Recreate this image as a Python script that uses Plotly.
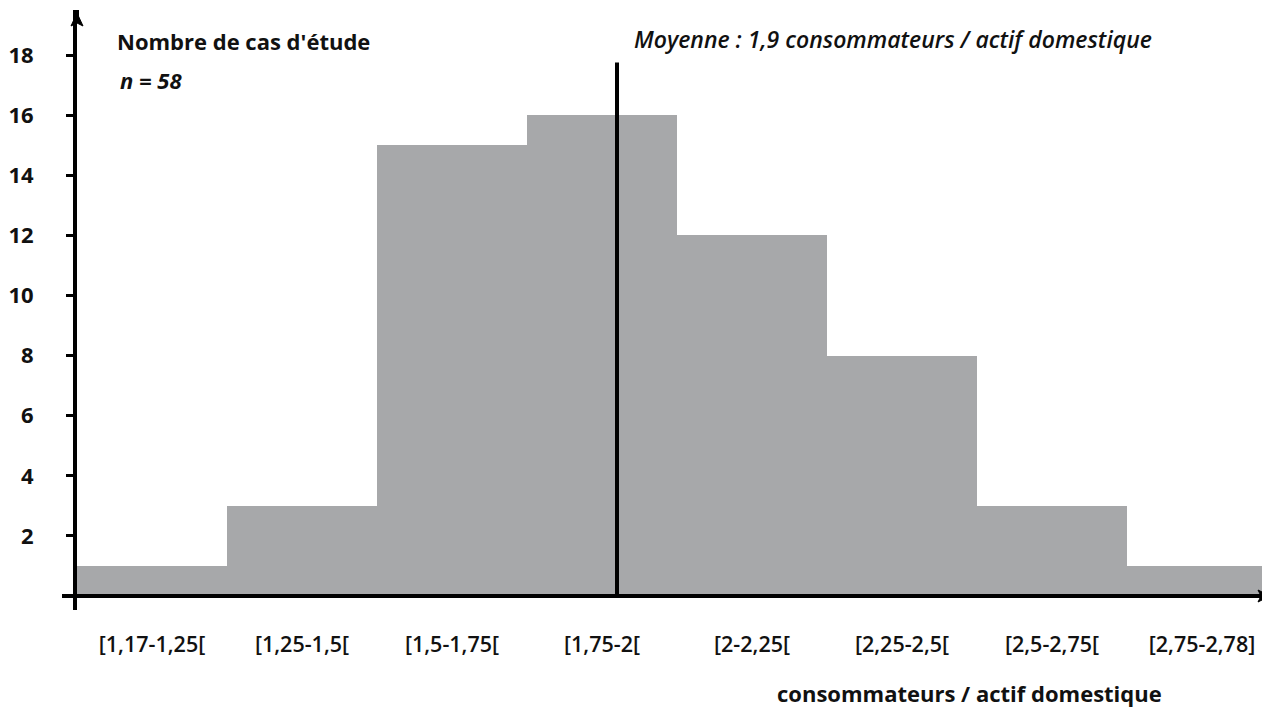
import plotly.graph_objects as go

categories = ["[1,17-1,25[", "[1,25-1,5[", "[1,5-1,75[", "[1,75-2[",
              "[2-2,25[", "[2,25-2,5[", "[2,5-2,75[", "[2,75-2,78]"]
counts = [1, 3, 15, 16, 12, 8, 3, 1]
positions = [0.5, 1.5, 2.5, 3.5, 4.5, 5.5, 6.5, 7.5]
mean_pos = 3.6
mean_top = 17.75
y_ticks = [2, 4, 6, 8, 10, 12, 14, 16, 18]

OFF = 8  # page body margin
W, H = 1270 - OFF, 710 - OFF
# screen coordinates of plot area
SL, SR, ST, SB = 77, 1270, 10, 610
L, T = SL - OFF, ST - OFF
R, B = 0, H - (SB - OFF)
pw, ph = SR - SL, SB - ST

def px(x):
    return (x - SL) / pw

def py(y):
    return (SB - y) / ph

FONT = "Open Sans"

fig = go.Figure()
fig.add_trace(go.Bar(x=positions, y=counts, width=1.0,
                     marker=dict(color="#a7a8aa", line=dict(width=0)),
                     hoverinfo="skip"))

fig.update_layout(
    width=W, height=H, margin=dict(l=L, r=R, t=T, b=B),
    plot_bgcolor="white", paper_bgcolor="white", showlegend=False,
    bargap=0,
    xaxis=dict(range=[0, pw / 150.0], tickvals=positions, ticktext=categories,
               showgrid=False, zeroline=False, showline=False, ticks="",
               ticklabelstandoff=19,
               tickfont=dict(family=FONT, size=21.5, color="#111", weight=600)),
    yaxis=dict(range=[-0.466, -0.466 + ph / 30.05], tickvals=y_ticks,
               showgrid=False, zeroline=False, showline=True, linewidth=4,
               linecolor="black", ticks="outside", ticklen=7, tickwidth=2.5,
               tickcolor="black", ticklabelstandoff=28,
               tickfont=dict(family=FONT, size=22, color="#111", weight="bold")),
)

# x axis line at y=0
fig.add_shape(type="line", xref="paper", yref="y", x0=px(62), x1=px(1265),
              y0=0, y1=0, line=dict(color="black", width=4))
# x arrow head
fig.add_shape(type="path", xref="paper", yref="paper",
              path=f"M {px(1270)} {py(596)} L {px(1258)} {py(590)} L {px(1261)} {py(596)} L {px(1258)} {py(602)} Z",
              fillcolor="black", line=dict(color="black", width=1))
# y arrow head
fig.add_shape(type="path", xref="paper", yref="paper",
              path=f"M {px(77)} {py(13)} L {px(71)} {py(26)} L {px(77)} {py(23)} L {px(83)} {py(26)} Z",
              fillcolor="black", line=dict(color="black", width=1))
fig.add_shape(type="line", xref="paper", yref="paper", x0=px(77), x1=px(77),
              y0=py(22), y1=1, line=dict(color="black", width=4))
# mean line
fig.add_shape(type="line", xref="x", yref="y", x0=mean_pos, x1=mean_pos,
              y0=0, y1=mean_top, line=dict(color="black", width=4))

def ann(text, x, y, size, italic=False, weight="bold"):
    fig.add_annotation(text=text, xref="paper", yref="paper", x=px(x), y=py(y),
                       xanchor="left", yanchor="middle", showarrow=False,
                       font=dict(family=FONT, size=size, color="#111",
                                 style="italic" if italic else "normal",
                                 weight=weight))

ann("Nombre de cas d'étude", 115, 41, 22)
ann("n = 58", 118, 80, 22, italic=True)
ann("Moyenne : 1,9 consommateurs / actif domestique", 632, 39, 23, italic=True, weight=600)
ann("consommateurs / actif domestique", 775, 693, 22)

fig.write_html("out.html")
